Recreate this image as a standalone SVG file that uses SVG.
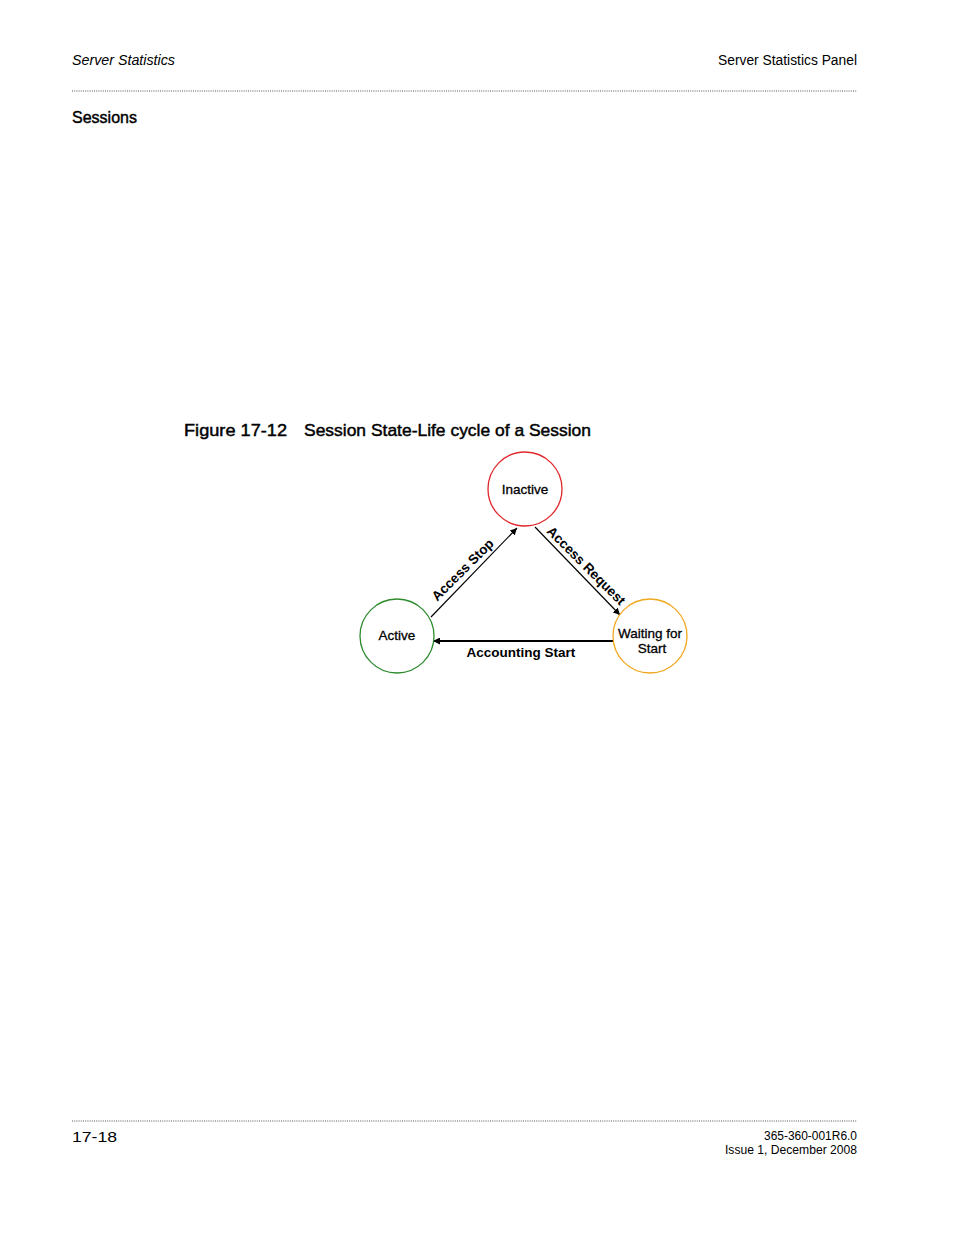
<svg xmlns="http://www.w3.org/2000/svg" width="954" height="1235" viewBox="0 0 954 1235">
<style>
.pg{font-family:"Liberation Sans",Arial,sans-serif;fill:#000}
.hd{stroke:#000;stroke-width:0.45}
.dot{stroke:#555;stroke-width:1;stroke-dasharray:1 1.2}
.node{fill:#fff;stroke-width:1.3}
.nt{font-family:"Liberation Sans",Arial,sans-serif;font-size:13.5px;fill:#000;text-anchor:middle;stroke:#000;stroke-width:0.3}
.lt{font-family:"Liberation Sans",Arial,sans-serif;font-size:13.5px;font-weight:bold;fill:#000;text-anchor:middle}
.edge{stroke:#000;fill:none}
</style>
<defs>
<marker id="ah" viewBox="0 0 10 10" refX="10" refY="5" markerWidth="7" markerHeight="7" orient="auto" markerUnits="userSpaceOnUse">
<path d="M0,0 L10,5 L0,10 z" fill="#000"/>
</marker>
</defs>
<rect width="954" height="1235" fill="#fff"/>
<g id="header">
<text class="pg" x="72" y="65" font-size="14" font-style="italic" textLength="103" lengthAdjust="spacingAndGlyphs">Server Statistics</text>
<text class="pg" x="857" y="65" font-size="14" text-anchor="end" textLength="139" lengthAdjust="spacingAndGlyphs">Server Statistics Panel</text>
<line class="dot" x1="72" y1="91" x2="857" y2="91"/>
<text class="pg hd" x="72" y="123" font-size="17" textLength="65" lengthAdjust="spacingAndGlyphs">Sessions</text>
<text class="pg hd" x="184" y="436" font-size="17" textLength="103" lengthAdjust="spacingAndGlyphs">Figure 17-12</text>
<text class="pg hd" x="304" y="436" font-size="17" textLength="287" lengthAdjust="spacingAndGlyphs">Session State-Life cycle of a Session</text>
</g>
<g id="connectors">
<line class="edge" x1="431" y1="617" x2="517" y2="528" stroke-width="1.2" marker-end="url(#ah)"/>
<line class="edge" x1="535" y1="527" x2="620" y2="615" stroke-width="1.2" marker-end="url(#ah)"/>
<line class="edge" x1="613" y1="641" x2="433" y2="641" stroke-width="1.8" marker-end="url(#ah)"/>
<text class="lt" transform="translate(466,573) rotate(-45)">Access Stop</text>
<text class="lt" transform="translate(583,569) rotate(45)">Access Request</text>
<text class="lt" x="521" y="657">Accounting Start</text>
</g>
<g id="inactive">
<circle class="node" cx="525" cy="489" r="37" stroke="#e0262b"/>
<text class="nt" x="525" y="494">Inactive</text>
</g>
<g id="active">
<circle class="node" cx="397" cy="636" r="37" stroke="#2e8b2e"/>
<text class="nt" x="397" y="640">Active</text>
</g>
<g id="waiting">
<circle class="node" cx="650" cy="636" r="37" stroke="#f0a81e"/>
<text class="nt" x="650" y="638">Waiting for</text>
<text class="nt" x="652" y="653">Start</text>
</g>
<g id="footer">
<line class="dot" x1="72" y1="1121" x2="857" y2="1121"/>
<text class="pg" x="72" y="1142" font-size="15" textLength="45" lengthAdjust="spacingAndGlyphs">17-18</text>
<text class="pg" x="857" y="1140" font-size="12" text-anchor="end" textLength="93" lengthAdjust="spacingAndGlyphs">365-360-001R6.0</text>
<text class="pg" x="857" y="1154" font-size="12" text-anchor="end" textLength="132" lengthAdjust="spacingAndGlyphs">Issue 1, December 2008</text>
</g>
</svg>
